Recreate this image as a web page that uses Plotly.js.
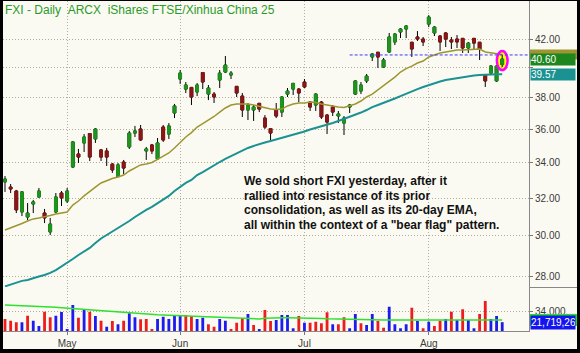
<!DOCTYPE html>
<html><head><meta charset="utf-8">
<script src="https://cdn.plot.ly/plotly-3.0.1.min.js"></script>
<style>
html,body{margin:0;padding:0;background:#000;width:580px;height:353px;overflow:hidden;}
#chart{position:absolute;left:3px;top:1px;width:574px;height:348px;}
</style></head><body><div id="chart"></div>
<script>
// Trading days, 16 Apr 2009 .. 20 Aug 2009 (index = trading-day number)
const dayCount = 89;
const monthTicks = [11, 31, 53, 75];
const monthLabels = ['May', 'Jun', 'Jul', 'Aug'];
const priceTicks = [28, 30, 32, 34, 36, 38, 40, 42];

const opens = [32.90,32.61,32.39,31.25,30.98,31.68,32.06,31.19,30.20,31.25,
32.28,31.84,33.75,34.51,35.17,35.74,35.41,34.75,34.69,33.92,
33.20,34.04,34.93,35.77,36.02,34.69,35.05,34.22,36.14,35.71,
37.02,39.24,38.57,38.68,38.38,39.68,38.24,38.24,39.17,39.71,
39.51,38.75,38.11,37.21,37.21,37.64,36.70,36.05,37.21,37.08,
38.24,38.57,38.57,39.04,37.72,37.53,37.72,36.89,37.40,36.83,
36.39,37.40,38.24,38.44,39.11,40.75,41.08,40.05,41.10,41.81,
42.53,42.75,41.79,42.17,42.02,43.11,42.46,42.24,42.46,41.95,
42.02,42.07,41.38,42.07,41.79,39.51,39.64,39.11,40.22];
const highs = [33.23,32.78,32.45,32.39,31.73,31.90,32.56,31.41,30.93,32.28,
32.39,32.56,35.29,34.81,35.71,35.77,36.08,34.81,34.87,33.98,
33.98,34.16,35.90,36.21,36.27,34.93,35.11,35.47,36.27,36.39,
37.60,39.85,39.04,38.71,38.97,39.71,38.84,38.38,39.85,40.82,
39.78,38.77,38.31,37.66,37.53,37.66,36.89,36.08,37.66,38.11,
38.64,38.97,38.64,39.24,37.79,38.31,37.79,36.96,37.53,37.15,
36.83,37.60,39.17,39.04,39.58,41.03,41.10,40.68,42.46,42.46,
42.82,43.04,41.81,42.60,42.17,43.78,42.97,42.31,42.53,42.17,
42.31,42.09,41.81,42.09,41.81,39.58,40.19,40.19,40.89];
const lows = [32.34,32.28,31.19,31.03,30.82,31.19,32.01,30.66,30.04,31.19,
31.57,31.73,33.69,33.98,34.63,34.10,35.17,34.10,33.81,33.41,
33.18,33.35,34.81,35.53,35.29,34.16,34.51,34.16,35.23,35.41,
36.70,38.91,38.31,37.53,38.11,38.57,37.85,37.66,38.64,39.64,
39.24,38.05,36.77,36.58,36.52,37.08,36.02,35.23,36.70,36.77,
38.05,38.18,37.72,38.64,37.15,37.15,36.64,35.71,36.83,36.39,
35.65,37.02,38.18,38.24,38.97,40.47,39.99,39.99,41.03,41.59,
42.09,42.09,40.75,41.88,41.52,42.89,42.24,41.17,41.45,41.31,
41.38,41.03,41.03,41.31,40.54,38.71,39.51,39.04,40.05];
const closes = [33.06,32.50,31.36,32.34,31.19,31.79,32.39,30.93,30.61,32.06,
32.01,32.39,35.23,34.33,35.53,34.33,36.02,34.33,34.33,33.58,
33.87,33.69,35.77,35.90,35.35,34.81,34.69,35.17,35.35,36.21,
37.47,39.64,38.84,38.05,38.84,39.04,38.64,38.05,39.64,40.19,
39.64,38.31,37.21,37.53,37.40,37.27,36.14,35.77,36.83,38.05,
38.44,38.95,38.31,38.71,37.40,38.24,36.77,36.45,37.08,36.96,
36.70,37.53,39.11,38.84,39.44,40.96,40.75,40.54,42.17,42.38,
42.75,42.97,41.31,42.02,41.81,43.63,42.89,41.81,42.02,41.81,
41.81,41.38,41.73,41.73,41.31,39.11,40.12,40.12,40.60];
const ema20 = [30.30,30.40,30.51,30.64,30.77,30.88,30.93,30.98,31.06,31.14,
31.19,31.25,31.62,31.84,32.12,32.39,32.61,32.84,32.98,33.09,
33.18,33.29,33.52,33.69,33.87,33.92,34.01,34.19,34.36,34.57,
34.87,35.23,35.53,35.80,36.14,36.36,36.58,36.80,37.08,37.34,
37.53,37.60,37.60,37.60,37.53,37.43,37.34,37.27,37.24,37.27,
37.47,37.60,37.66,37.66,37.72,37.69,37.60,37.53,37.47,37.40,
37.37,37.47,37.60,37.79,38.05,38.24,38.51,38.84,39.11,39.37,
39.71,39.95,40.12,40.33,40.47,40.75,40.89,41.03,41.10,41.17,
41.24,41.24,41.27,41.31,41.31,41.10,41.03,40.96,40.92];
const ema50 = [27.51,27.60,27.69,27.77,27.81,27.91,27.98,28.05,28.15,28.29,
28.46,28.64,28.83,29.03,29.20,29.38,29.63,29.86,30.04,30.22,
30.40,30.56,30.77,30.98,31.19,31.36,31.52,31.71,31.90,32.12,
32.39,32.64,32.84,33.01,33.29,33.46,33.66,33.87,34.04,34.22,
34.39,34.57,34.72,34.87,34.99,35.11,35.20,35.29,35.38,35.47,
35.59,35.65,35.74,35.87,35.99,36.08,36.21,36.30,36.39,36.52,
36.64,36.77,36.89,37.05,37.21,37.40,37.53,37.66,37.79,37.95,
38.11,38.28,38.44,38.57,38.71,38.84,38.97,39.07,39.17,39.24,
39.31,39.37,39.44,39.48,39.51,39.54,39.55,39.56,39.57];
// volume in millions of shares
const volumes = [25.2,23.3,21.6,21.6,28.8,23.3,17.5,33.2,27.1,28.8,
32.9,14.2,40.6,26.6,35.9,33.2,28.5,23.3,16.7,23.0,
19.4,23.3,31.5,27.1,24.9,25.2,14.2,25.2,27.7,25.2,
28.5,29.6,29.6,28.5,25.2,26.6,19.4,16.7,25.2,23.3,
14.2,21.1,26.0,30.7,18.6,14.2,35.1,23.0,24.1,29.6,
29.6,15.0,28.5,21.1,21.1,22.2,20.5,32.6,19.4,19.4,
27.1,15.0,30.7,20.5,18.6,30.7,23.0,15.6,38.7,19.4,
15.0,19.4,37.6,23.0,15.0,22.2,17.5,23.3,25.2,33.2,
24.1,35.9,24.1,15.0,30.7,45.0,25.2,28.5,21.71926];
const volumeAvg = [40.6,40.4,40.2,40.0,39.8,39.5,39.2,38.9,38.5,38.0,
37.5,37.0,36.8,36.4,36.0,35.6,35.2,34.6,34.1,33.5,
32.9,32.3,31.8,31.5,31.0,30.6,30.2,29.8,29.6,29.3,
29.0,28.8,28.6,28.5,28.3,28.0,27.6,27.2,26.8,26.6,
26.5,26.2,25.8,25.4,25.2,25.2,26.0,26.4,26.6,26.6,
26.6,26.6,26.6,26.6,26.4,26.2,25.8,25.4,25.2,25.2,
25.0,24.6,24.3,24.1,24.1,24.1,24.1,24.1,24.1,24.1,
24.1,24.1,24.1,24.1,24.1,24.1,24.1,24.1,24.1,24.1,
24.1,24.1,24.1,24.1,24.1,24.1,24.1,24.1,24.1];
const volumeDir = ('RRRBRBBRRB'+'BBBRBRBRBR'+'BRBBRRRBBB'+'BBRRBBRRBB'+'RRRBRBRRBB'+
  'BBRBRRRRBR'+'RBBRBBRRBB'+'BBRBRBRRBR'+'BRBBRRBBB').split('');
const resistance = 40.89;
const resistanceStart = 61;
const noteLines = [
  'We sold short FXI yesterday, after it',
  'rallied into resistance of its prior',
  'consolidation, as well as its 20-day EMA,',
  'all within the context of a "bear flag" pattern.'
];

const days = Array.from({length: dayCount}, (_, i) => i);
const GREEN = '#1c961c', RED = '#8c1616';
const OLIVE = '#9d9530', TEAL = '#1b9292';
const BG = '#fbfaf2';
const GRID = '#b3ae98';
const FONT = 'Arial, "Liberation Sans", sans-serif';
const lg = Math.log10;
const XMIN = -0.354, XMAX = 92.74, RIGHT = 574 / 526;
const PMIN = 27.48, PMAX = 44.85;
const PRICE_DOM = [44/330, 1];
const xPaper = v => (v - XMIN) / (XMAX - XMIN);
const yPaper = p => PRICE_DOM[0] + (lg(p) - lg(PMIN)) / (lg(PMAX) - lg(PMIN)) * (PRICE_DOM[1] - PRICE_DOM[0]);

const bodyHigh = opens.map((o, i) => Math.max(o, closes[i]));
const bodyLow = opens.map((o, i) => Math.min(o, closes[i]));

const traces = [
  {type:'candlestick', x:days, open:opens, high:highs, low:lows, close:closes,
   increasing:{line:{color:'#000', width:1}, fillcolor:'#000'},
   decreasing:{line:{color:'#000', width:1}, fillcolor:'#000'},
   whiskerwidth:0, hoverinfo:'skip', xaxis:'x', yaxis:'y'},
  {type:'candlestick', x:days, open:opens, high:bodyHigh, low:bodyLow, close:closes,
   increasing:{line:{color:GREEN, width:1}, fillcolor:GREEN},
   decreasing:{line:{color:RED, width:1}, fillcolor:RED},
   whiskerwidth:0, hoverinfo:'skip', xaxis:'x', yaxis:'y'},
  {type:'scatter', mode:'lines', x:days, y:ema20, line:{color:OLIVE, width:1.5}, xaxis:'x', yaxis:'y', hoverinfo:'skip'},
  {type:'scatter', mode:'lines', x:days, y:ema50, line:{color:TEAL, width:2}, xaxis:'x', yaxis:'y', hoverinfo:'skip'},
  {type:'bar', x:days, y:volumes, width:0.5,
   marker:{color:volumeDir.map(d => d === 'R' ? '#ee1c1c' : '#1c1cee'), line:{width:0}},
   xaxis:'x', yaxis:'y2', hoverinfo:'skip'},
  {type:'scatter', mode:'lines', x:days, y:volumeAvg, line:{color:'#2fe02f', width:1.5}, xaxis:'x', yaxis:'y2', hoverinfo:'skip'}
];

const last = dayCount - 1;
const fmtVol = v => Math.round(v * 1e6).toLocaleString('en-US');
const pxf = px => Math.exp(px / 584); // price factor for a pixel offset on the log axis

const tickFont = {family: FONT, size: 10, color: '#3a3a3a'};
const labelBox = (yref, y, text, bg) => ({xref: 'paper', yref: yref, x: 1, xshift: 1, y: y,
  xanchor: 'left', yanchor: 'middle', showarrow: false, text: text, bgcolor: bg,
  width: 44, height: 11, align: 'left', borderpad: 0, font: {family: FONT, size: 10, color: '#fff'}});

const noteAnns = noteLines.map((t, k) => ({xref: 'paper', yref: 'paper', x: 0.4544,
  y: 1 - (180 + 14.6 * k) / 330, xanchor: 'left', yanchor: 'middle', align: 'left', showarrow: false,
  text: '<b>' + t + '</b>', font: {family: FONT, size: 12, color: '#111'}}));

const ell = {x0: xPaper(last - 0.95), x1: xPaper(last + 0.95),
  y0: yPaper(lows[last] / pxf(3)), y1: yPaper(highs[last] * pxf(4))};

const layout = {
  width: 574, height: 348,
  margin: {l: 0, r: 48, t: 0, b: 18, pad: 0},
  paper_bgcolor: BG, plot_bgcolor: BG,
  showlegend: false,
  dragmode: false,
  xaxis: {range: [XMIN, XMAX], anchor: 'y2', tickvals: monthTicks, ticktext: monthLabels,
    showgrid: true, gridcolor: GRID, griddash: '1px,2px', gridwidth: 1,
    ticks: 'outside', ticklen: 3, tickcolor: '#777', showline: true, linecolor: '#888', linewidth: 1,
    tickfont: tickFont, zeroline: false, rangeslider: {visible: false}, fixedrange: true},
  yaxis: {type: 'log', domain: PRICE_DOM, range: [lg(PMIN), lg(PMAX)],
    side: 'right', anchor: 'x', tickvals: priceTicks,
    // the 40.00 label sits behind the value flags in the original
    ticktext: priceTicks.map(v => v === 40 ? '' : v.toFixed(2)),
    ticks: 'outside', ticklen: 3, tickcolor: '#777', showline: true, linecolor: '#888', linewidth: 1,
    showgrid: true, gridcolor: GRID, griddash: '1px,2px', tickfont: tickFont, zeroline: false, fixedrange: true},
  yaxis2: {domain: [0, 43/330], range: [12, 59.3], side: 'right', anchor: 'x',
    tickvals: [34], ticktext: ['34,000,...'], ticks: 'outside', ticklen: 3, tickcolor: '#777',
    showline: true, linecolor: '#888', linewidth: 1, showgrid: true, gridcolor: GRID, griddash: '1px,2px',
    tickfont: tickFont, zeroline: false, fixedrange: true},
  shapes: [
    Object.assign({type: 'circle', xref: 'paper', yref: 'paper', fillcolor: '#ffff00',
      line: {width: 0}, layer: 'below'}, ell),
    Object.assign({type: 'circle', xref: 'paper', yref: 'paper',
      line: {color: '#ff00ff', width: 2.5}, layer: 'above'}, ell),
    {type: 'line', xref: 'paper', yref: 'paper', x0: xPaper(resistanceStart), x1: 1,
     y0: yPaper(resistance), y1: yPaper(resistance), line: {color: '#3a3aff', width: 1, dash: '3px,2px'}},
    {type: 'line', xref: 'paper', yref: 'paper', x0: 1, x1: RIGHT, y0: 43.5/330, y1: 43.5/330,
     line: {color: '#888', width: 1}},
    // value flags partly hidden behind the front labels
    {type: 'rect', xref: 'paper', yref: 'paper', x0: 1 + 1/526, x1: RIGHT,
     y0: yPaper(ema20[last] / pxf(5)), y1: yPaper(ema20[last] * pxf(5)), fillcolor: OLIVE, line: {width: 0}},
    {type: 'rect', xref: 'paper', yref: 'y2', x0: 1 + 1/526, x1: RIGHT,
     y0: volumeAvg[last] - 6.6, y1: volumeAvg[last] + 6.6, fillcolor: '#22e022', line: {width: 0}}
  ],
  annotations: [
    {xref: 'paper', yref: 'paper', x: 0, y: 1, xanchor: 'left', yanchor: 'top', showarrow: false,
     text: 'FXI - Daily\u00a0\u00a0ARCX\u00a0\u00a0iShares FTSE/Xinhua China 25',
     font: {family: FONT, size: 12, color: '#2a9a2a'}},
    ...noteAnns,
    labelBox('y', lg(closes[last]), closes[last].toFixed(2), '#1e861e'),
    labelBox('y', lg(ema50[last]), ema50[last].toFixed(2), TEAL),
    Object.assign(labelBox('y2', volumes[last], fmtVol(volumes[last]).slice(0, 9), '#1414ee'), {height: 13})
  ]
};

Plotly.newPlot('chart', traces, layout, {displayModeBar: false, staticPlot: true});
</script></body></html>
